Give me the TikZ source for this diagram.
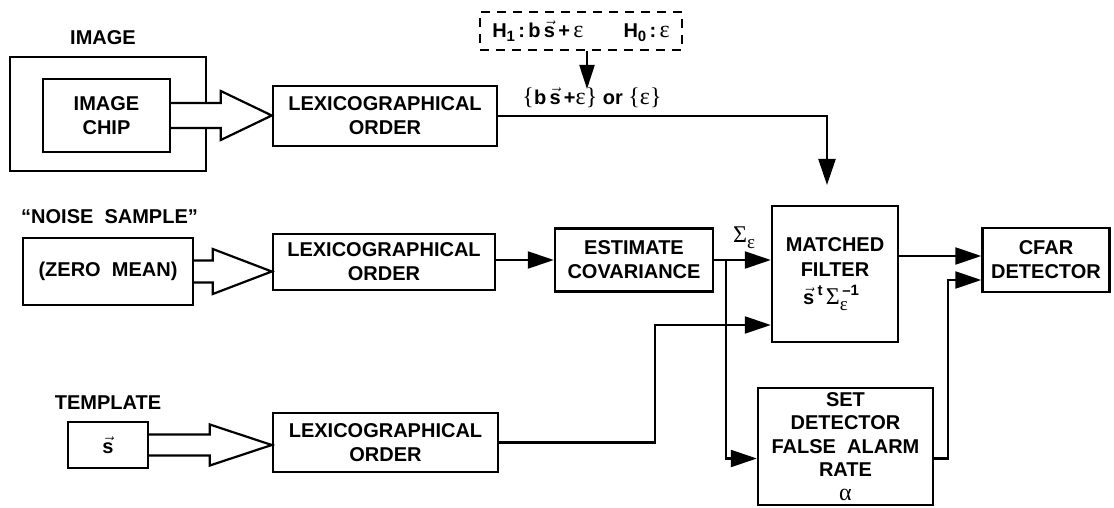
\documentclass[tikz,border=0pt]{standalone}
\usepackage{amsmath}
\usepackage{fontspec}
\setmainfont{Liberation Sans}
\newfontfamily\tms{Liberation Serif}
\usetikzlibrary{arrows.meta,calc}
\newcommand{\fatarrow}[5]{% #1 source, #2 target, #3 shaft half, #4 head half, #5 head length
  \path[fill=white] let \p1=(#1.east), \p2=(#2.west) in
    (\x1,\y1+#3) -- (\x2-#5,\y1+#3) -- (\x2-#5,\y1+#4) -- (\x2,\y1) -- (\x2-#5,\y1-#4) -- (\x2-#5,\y1-#3) -- (\x1,\y1-#3) -- cycle;
  \draw[fatline] let \p1=(#1.east), \p2=(#2.west) in
    (\x1,\y1+#3) -- (\x2-#5,\y1+#3) -- (\x2-#5,\y1+#4) -- (\x2,\y1) -- (\x2-#5,\y1-#4) -- (\x2-#5,\y1-#3) -- (\x1,\y1-#3);
}
\newcommand{\sv}{$\vec{\text{s}}$}
\newcommand{\gr}[1]{{\tms\mdseries\fontsize{24}{24}\selectfont #1}}
\newcommand{\grs}[1]{{\tms\mdseries\fontsize{19}{19}\selectfont #1}}
\newcommand{\smallsz}{\fontsize{15}{15}\selectfont}
\newcommand{\subs}[1]{\raisebox{-4pt}{\smallsz #1}}
\newcommand{\subg}[1]{\raisebox{-6pt}{\grs{#1}}}
\newcommand{\sups}[1]{\raisebox{9pt}{\smallsz #1}}
\begin{document}
\begin{tikzpicture}[x=1pt,y=-1pt,
  txt/.style={font=\fontsize{20}{24}\selectfont\bfseries, align=center, inner sep=0pt},
  box/.style={txt, draw, line width=2.4pt},
  fatline/.style={line width=2.2pt, line join=miter},
  conn/.style={line width=2.2pt, -{Triangle[length=26pt,width=17pt]}},
  conns/.style={line width=2.2pt, -{Triangle[length=24pt,width=15pt]}}]
\useasboundingbox (0,0) rectangle (1114,508);

% labels
\node[txt] (limage) at (103,38) {IMAGE};
\node[txt, anchor=west] (lnoise) at (21,217) {“NOISE\ \ SAMPLE”};
\node[txt] (ltmpl) at (108,403) {TEMPLATE};

% boxes
\node[box, minimum width=196pt, minimum height=114pt] (outer) at (108,114) {};
\node[box, minimum width=127pt, minimum height=73pt] (chip) at (106.5,115.5) {IMAGE\\CHIP};
\node[box, minimum width=224pt, minimum height=60pt] (lex1) at (385,116) {LEXICOGRAPHICAL\\ORDER};
\node[box, dashed, dash pattern=on 9pt off 7pt, line width=2pt, minimum width=202pt, minimum height=38pt] (hyp) at (581,31)
  {H\subs{1}\,:\,b\,\sv\,+\,\gr{ε}\qquad H\subs{0}\,:\,\gr{ε}};
\node[box, minimum width=170pt, minimum height=67pt] (zero) at (108,271.5) {(ZERO\ \ MEAN)};
\node[box, minimum width=222pt, minimum height=56pt] (lex2) at (384,262) {LEXICOGRAPHICAL\\ORDER};
\node[box, minimum width=158pt, minimum height=63pt] (estcov) at (634,260) {ESTIMATE\\COVARIANCE};
\node[box, minimum width=126pt, minimum height=136pt, font=\fontsize{20}{25}\selectfont\bfseries] (mf) at (835,274)
  {MATCHED\\FILTER\\[3pt]\sv\,\sups{t}\,\gr{Σ}\rlap{\sups{\,–1}}\subg{ε}\hphantom{\smallsz\,–1}};
\node[box, minimum width=127pt, minimum height=64pt] (cfar) at (1046,260) {CFAR\\DETECTOR};
\node[box, minimum width=175pt, minimum height=117pt, font=\fontsize{20}{23.5}\selectfont\bfseries] (set) at (845.5,446.5)
  {SET\\DETECTOR\\FALSE\ \ ALARM\\RATE\\\gr{α}};
\node[box, minimum width=225pt, minimum height=59pt] (lex3) at (385.5,442.5) {LEXICOGRAPHICAL\\ORDER};
\node[box, minimum width=80pt, minimum height=46pt] (tmpl) at (108,445) {\sv};

% text labels on connectors
\node[txt] (hlab) at (592,98) {\gr{\{}b\,\sv\,+\gr{ε\}} or \gr{\{ε\}}};
\node[txt] (sig) at (744,238) {\gr{Σ}\subg{ε}};

% fat arrows
\fatarrow{chip}{lex1}{12.5pt}{24.5pt}{51pt}
\fatarrow{zero}{lex2}{11pt}{22.5pt}{59pt}
\fatarrow{tmpl}{lex3}{10.5pt}{20.5pt}{62pt}

% coordinates
\coordinate (mfin) at (827,185);
\coordinate (hin) at (587,89);
\coordinate (br) at (726,260);
\coordinate (tj) at (655,325);
\coordinate (cj) at (948,280);

% connectors
\draw[conns] ([xshift=6pt]hyp.south) -- (hin);
\draw[conn] (lex1.east) -| (mfin);
\draw[conn] (lex2.east |- estcov.west) -- (estcov.west);
\draw[conn] (estcov.east) -- (estcov.east -| mf.west);
\draw[conn] (br) |- ([yshift=-12pt]set.west);
\draw[conn] (lex3.east) -| (tj) -- (tj -| mf.west);
\draw[conn] ([yshift=18pt]mf.east) -- ([yshift=18pt]mf.east -| cfar.west);
\draw[conn] ([yshift=-12pt]set.east) -| (cj) -- (cj -| cfar.west);
\end{tikzpicture}
\end{document}
